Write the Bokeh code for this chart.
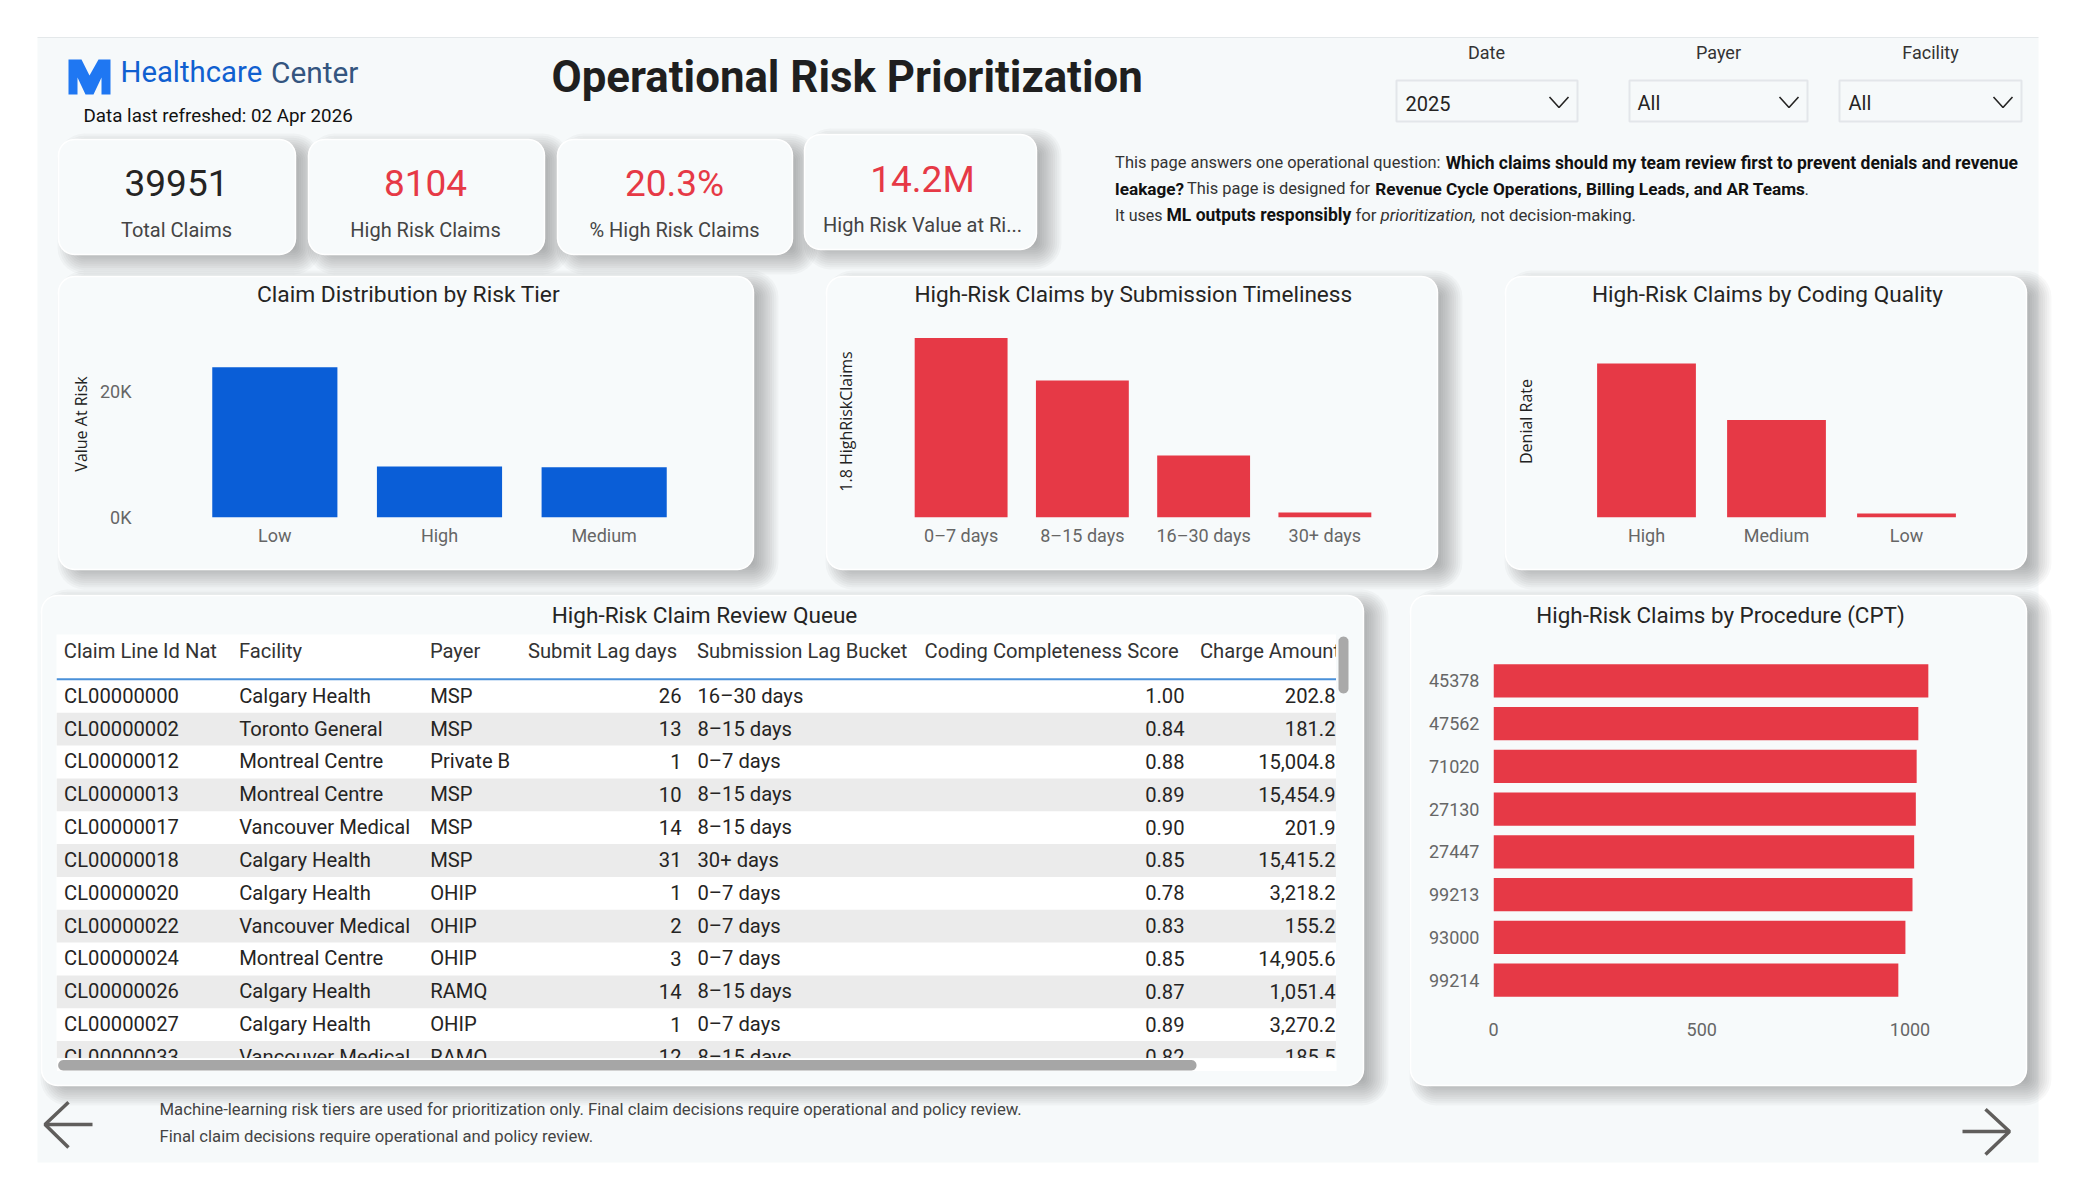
import numpy as np
from bokeh.plotting import figure
from bokeh.models import Range1d, FixedTicker, Column
from bokeh.core.properties import value
from bokeh.embed import file_html
from bokeh.resources import INLINE

# ---------- data ----------
kpi_values = ["39951", "8104", "20.3%", "14.2M"]
kpi_labels = ["Total Claims", "High Risk Claims", "% High Risk Claims", "High Risk Value at Ri..."]

tier_names = ["Low", "High", "Medium"]
tier_values = [23850, 8104, 7997]
lag_names = ["0–7 days", "8–15 days", "16–30 days", "30+ days"]
lag_values = [3793, 2895, 1310, 106]
coding_names = ["High", "Medium", "Low"]
coding_values = [0.385, 0.244, 0.010]
cpt_names = ["45378", "47562", "71020", "27130", "27447", "99213", "93000", "99214"]
cpt_values = [1044, 1020, 1016, 1014, 1010, 1006, 989, 972]

table_headers = ["Claim Line Id Nat", "Facility", "Payer", "Submit Lag days",
                 "Submission Lag Bucket", "Coding Completeness Score", "Charge Amount"]
claim_ids = ["CL00000000", "CL00000002", "CL00000012", "CL00000013", "CL00000017", "CL00000018",
             "CL00000020", "CL00000022", "CL00000024", "CL00000026", "CL00000027", "CL00000033"]
facilities = ["Calgary Health", "Toronto General", "Montreal Centre", "Montreal Centre", "Vancouver Medical",
              "Calgary Health", "Calgary Health", "Vancouver Medical", "Montreal Centre", "Calgary Health",
              "Calgary Health", "Vancouver Medical"]
payers = ["MSP", "MSP", "Private B", "MSP", "MSP", "MSP", "OHIP", "OHIP", "OHIP", "RAMQ", "OHIP", "RAMQ"]
submit_lags = ["26", "13", "1", "10", "14", "31", "1", "2", "3", "14", "1", "12"]
lag_buckets = ["16–30 days", "8–15 days", "0–7 days", "8–15 days", "8–15 days", "30+ days",
               "0–7 days", "0–7 days", "0–7 days", "8–15 days", "0–7 days", "8–15 days"]
coding_scores = ["1.00", "0.84", "0.88", "0.89", "0.90", "0.85", "0.78", "0.83", "0.85", "0.87", "0.89", "0.82"]
charges = ["202.8", "181.2", "15,004.8", "15,454.9", "201.9", "15,415.2", "3,218.2", "155.2",
           "14,905.6", "1,051.4", "3,270.2", "185.5"]

# ---------- style ----------
BLUE = "#0A5ED7"
RED = "#E63946"
PANEL = "#F6F9FA"
CARD = "#F7FAFB"
INK = "#252423"
GREY = "#666666"
BODY_FONT = "Roboto"
HEAD_FONT = "Roboto"


def rounded(x0, y0, x1, y1, r):
    a = np.linspace(0, np.pi / 2, 8)
    xs = np.concatenate([x1 - r + r * np.sin(a), x1 - r + r * np.cos(a), x0 + r - r * np.sin(a), x0 + r - r * np.cos(a)])
    ys = np.concatenate([y0 + r - r * np.cos(a), y1 - r + r * np.sin(a), y1 - r + r * np.cos(a), y0 + r - r * np.sin(a)])
    return xs.tolist(), ys.tolist()


bg = figure(width=2059, height=1184, x_range=Range1d(0, 2059), y_range=Range1d(1184, 0),
            output_backend="svg", toolbar_location=None, min_border=0, outline_line_color=None,
            background_fill_color="white", border_fill_color="white", frame_align=False)
bg.axis.visible = False
bg.grid.visible = False

# panel
px, py = [37, 2038, 2038, 37], [37, 37, 1162, 1162]
bg.patch(px, py, fill_color=PANEL, line_color=None)
bg.segment(37, 37, 2038, 37, line_color="#E4E8EA", line_width=1)


def card(x0, y0, x1, y1, dx=12, dy=7, blur=13):
    n = 13
    for k in range(n):
        d = blur - 2 * blur * k / (n - 1)
        xs, ys = rounded(x0 + dx - d, y0 + dy - d, x1 + dx + d, y1 + dy + d, 14 + max(d, -10))
        bg.patch(xs, ys, fill_color="#303840", fill_alpha=0.037, line_color=None)
    xs, ys = rounded(x0, y0, x1, y1, 16)
    bg.patch(xs, ys, fill_color=CARD, line_color="#FFFFFF", line_width=1.5)


kpi_boxes = [(58, 139, 295, 254), (308, 139, 544, 254), (557, 139, 792, 254), (804, 134, 1036, 249)]
chart_boxes = [(58, 276, 753, 569), (826, 276, 1437, 569), (1505, 276, 2026, 569)]
lower_boxes = [(41, 595, 1363, 1085), (1410, 595, 2026, 1085)]
for b in chart_boxes + lower_boxes + kpi_boxes:
    card(*b)


def t(x, y, s, size, color=INK, font=BODY_FONT, align="left", style="normal", base="middle"):
    bg.text([x], [y - 1.2], text=[s], text_font=value(font), text_font_size=f"{size}px", text_color=color,
            text_align=align, text_baseline=base, text_font_style=style)


# logo
logo_x = [68, 81, 89, 98, 110, 110, 101, 101, 93, 85, 77, 77, 68]
logo_y = [59, 59, 75, 59, 59, 94, 94, 77, 94, 94, 77, 94, 94]
bg.patch(logo_x, logo_y, fill_color="#1F77F2", line_color=None)
t(120, 73, "Healthcare", 29.3, "#1060D0", HEAD_FONT)
t(270.5, 73, "Center", 29.8, "#34557F", HEAD_FONT)
t(83, 117, "Data last refreshed: 02 Apr 2026", 18.8, "#111111", HEAD_FONT)
t(551, 78, "Operational Risk Prioritization", 43.8, "#1F1F1F", BODY_FONT, style="bold")

# filters
filter_names = ["Date", "Payer", "Facility"]
filter_values = ["2025", "All", "All"]
for name, val, (x0, x1, cx, tx, cv) in zip(filter_names, filter_values,
                                           [(1396, 1577, 1486, 1405, 1549), (1629, 1807, 1718, 1637, 1779),
                                            (1839, 2021, 1930, 1848, 1993)]):
    t(cx, 53, name, 18, "#333333", HEAD_FONT, align="center")
    bg.patch([x0, x1, x1, x0], [80, 80, 121, 121], fill_color=None, line_color="#E3E6EA", line_width=2)
    t(tx, 104, val, 20, INK)
    bg.line([cv, cv + 9.5, cv + 19], [96.5, 107, 96.5], line_color="#252423", line_width=1.6)

# KPI
kpi_centres = [(176, 184, 231), (425, 184, 231), (674, 184, 231), (922, 180, 226)]
kpi_colors = [INK, RED, RED, RED]
for (cx, vy, ly), v, l, c in zip(kpi_centres, kpi_values, kpi_labels, kpi_colors):
    t(cx, vy, v, 37, c, HEAD_FONT, align="center")
    t(cx, ly, l, 20, "#444444", HEAD_FONT, align="center")

# paragraph
for x, y, s, st, sz in [
    (1114.6, 163.4, "This page answers one operational question:", "normal", 16.4),
    (1445.3, 163.4, "Which claims should my team review first to prevent denials and revenue", "bold", 17.5),
    (1114.6, 189.4, "leakage?", "bold", 17.2),
    (1186.5, 189.4, "This page is designed for", "normal", 16.4),
    (1374.7, 189.4, "Revenue Cycle Operations, Billing Leads, and AR Teams", "bold", 17.2),
    (1804, 189.4, ".", "normal", 16.8),
    (1114.6, 216, "It uses", "normal", 16),
    (1166, 216, "ML outputs responsibly", "bold", 17.5),
    (1354.9, 216, "for", "normal", 16.8),
    (1380, 216, "prioritization,", "italic", 17),
    (1480, 216, "not decision-making.", "normal", 16.8),
]:
    t(x, y, s, sz, "#333333" if st != "bold" else "#111111", BODY_FONT, style=st)

# titles
t(408, 295, "Claim Distribution by Risk Tier", 22.8, INK, HEAD_FONT, align="center")
t(1133, 295.5, "High-Risk Claims by Submission Timeliness", 22.6, INK, HEAD_FONT, align="center")
t(1767, 295.5, "High-Risk Claims by Coding Quality", 22.6, INK, HEAD_FONT, align="center")
t(704, 616, "High-Risk Claim Review Queue", 22.6, INK, HEAD_FONT, align="center")
t(1720, 615.5, "High-Risk Claims by Procedure (CPT)", 22.4, INK, HEAD_FONT, align="center")

# footer
t(159, 1110.6, "Machine-learning risk tiers are used for prioritization only. Final claim decisions require operational and policy review.", 16.7, "#444444")
t(159, 1136.7, "Final claim decisions require operational and policy review.", 16.7, "#444444")

# arrows
for xs, ys in [([68, 44.5, 68], [1101.7, 1124, 1147]), ([1985, 2009, 1985], [1108.7, 1131, 1154])]:
    bg.line(xs, ys, line_color="#605E5C", line_width=3.5)
bg.line([44.5, 92], [1124, 1124], line_color="#605E5C", line_width=3.5)
bg.line([1962, 2009], [1131, 1131], line_color="#605E5C", line_width=3.5)

# scrollbars and the white strip under the table
bg.patch([56.4, 1336, 1336, 56.4], [1058, 1058, 1070.5, 1070.5], fill_color="white", line_color=None)
xs, ys = rounded(57.7, 1059.6, 1196, 1070, 5)
bg.patch(xs, ys, fill_color="#A6A6A6", line_color=None)
xs, ys = rounded(1338, 636, 1348, 693, 5)
bg.patch(xs, ys, fill_color="#A9A9A9", line_color=None)


def place(p, x, y):
    p.styles = {"position": "absolute", "left": f"{x}px", "top": f"{y}px"}
    return p


def clean_axis(ax):
    ax.axis_line_color = None
    ax.major_tick_line_color = None
    ax.minor_tick_line_color = None
    ax.major_tick_out = 0
    ax.major_tick_in = 0
    ax.major_label_text_font = HEAD_FONT
    ax.major_label_text_font_size = "18px"
    ax.major_label_text_color = GREY


def col_chart(names, values, fig_box, frame, ymax, color, bar_w, ylabel, title_standoff, ticks=None, overrides=None):
    fx0, fy0, fx1, fy1 = fig_box
    l, tp, r, b = frame
    p = figure(width=fx1 - fx0, height=fy1 - fy0, x_range=names, y_range=Range1d(0, ymax),
               output_backend="svg", toolbar_location=None, outline_line_color=None,
               background_fill_color=None, border_fill_color=None, frame_align=False,
               min_border_left=l - fx0, min_border_right=fx1 - r, min_border_top=tp - fy0, min_border_bottom=fy1 - b)
    p.vbar(x=names, top=values, width=bar_w, bottom=0, fill_color=color, line_color=None)
    p.grid.visible = False
    p.x_range.range_padding = 0.0
    ax = p.xaxis[0]
    clean_axis(ax)
    ax.major_label_standoff = 7
    ay = p.yaxis[0]
    clean_axis(ay)
    ay.ticker = FixedTicker(ticks=ticks or [])
    if overrides:
        ay.major_label_overrides = overrides
        ay.major_label_standoff = 61
    ay.axis_label = ylabel
    ay.axis_label_text_font = "Open Sans"
    ay.axis_label_text_font_size = "16px"
    ay.axis_label_text_font_style = "normal"
    ay.axis_label_text_color = "#222222"
    ay.axis_label_standoff = title_standoff
    return place(p, fx0, fy0)


c1 = col_chart(tier_names, tier_values, (50, 312, 745, 562), (192, 330, 686, 517), 29700, BLUE, 0.76,
               "Value At Risk", 5, [0, 20000], {0: "0K", 20000: "20K"})
c2 = col_chart(lag_names, lag_values, (810, 312, 1430, 562), (900, 325, 1385, 517), 4057, RED, 0.766,
               "1.8 HighRiskClaims", 44)
c3 = col_chart(coding_names, coding_values, (1490, 312, 2020, 562), (1581, 325, 1971, 517), 0.48, RED, 0.76,
               "Denial Rate", 45)

# table
ROW0 = 695.8
ROWH = 32.84
TEXT_UP = 0.6 / ROWH
tb = figure(width=1280, height=424, x_range=Range1d(56, 1336),
            y_range=Range1d((1058 - ROW0) / ROWH, (634 - ROW0) / ROWH),
            output_backend="svg", toolbar_location=None, min_border=0, outline_line_color=None,
            background_fill_color="white", border_fill_color="white", frame_align=False)
tb.axis.visible = False
tb.grid.visible = False
rows = list(range(len(claim_ids)))
stripe = [r for r in rows if r % 2 == 1]
tb.hbar(y=stripe, right=1336, left=56, height=1, fill_color="#EBEBEB", line_color=None)
tb.segment(56, -0.52, 1336, -0.52, line_color="#4A90D9", line_width=2)
left_cols = [(63.6, claim_ids), (238.7, facilities), (429.7, payers), (697, lag_buckets)]
right_cols = [(681, submit_lags), (1184, coding_scores), (1335, charges)]
TS = "20.2px"
text_rows = [r - TEXT_UP for r in rows]
for x, col in left_cols:
    tb.text([x] * len(col), text_rows, text=col, text_font=value(BODY_FONT), text_font_size=TS, text_color=INK,
            text_baseline="middle", text_align="left")
for x, col in right_cols:
    tb.text([x] * len(col), text_rows, text=col, text_font=value(BODY_FONT), text_font_size=TS, text_color=INK,
            text_baseline="middle", text_align="right")
hdr_x = [63.3, 238.4, 429.4, 527.5, 696.5, 924, 1199.4]
tb.text(hdr_x, [(650 - ROW0) / ROWH] * len(hdr_x), text=table_headers, text_font=value(BODY_FONT), text_font_size=TS,
        text_color="#333333", text_baseline="middle", text_align="left")
place(tb, 56, 634)

# CPT bars
ph = figure(width=540, height=410, y_range=list(reversed(cpt_names)),
            x_range=Range1d(0, (1950 - 1494) / 0.4165),
            output_backend="svg", toolbar_location=None, outline_line_color=None,
            background_fill_color=None, border_fill_color=None, frame_align=False,
            min_border_left=74, min_border_right=10,
            min_border_top=9, min_border_bottom=59)
ph.hbar(y=cpt_names, right=cpt_values, left=0, height=0.775, fill_color=RED, line_color=None)
ph.grid.visible = False
ph.y_range.range_padding = 0.0
for ax in (ph.xaxis[0], ph.yaxis[0]):
    clean_axis(ax)
ph.xaxis[0].ticker = FixedTicker(ticks=[0, 500, 1000])
ph.xaxis[0].major_label_standoff = 21
ph.yaxis[0].major_label_standoff = 14
place(ph, 1419, 650)

root = Column(children=[bg, c1, c2, c3, tb, ph], width=2059, height=1184, sizing_mode="fixed")
open("out.html", "w").write(file_html(root, INLINE))
